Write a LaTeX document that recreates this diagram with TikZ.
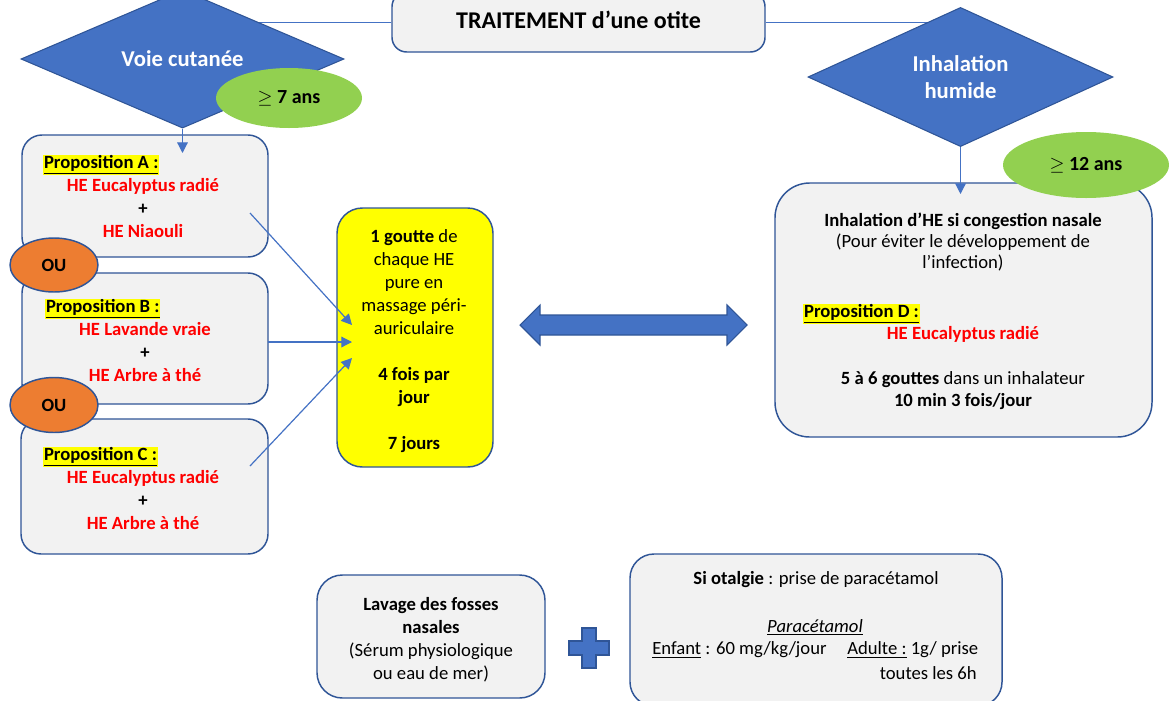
\documentclass[tikz,border=0pt]{standalone}
\usepackage{fontspec}
\setmainfont{Carlito}
\usetikzlibrary{shapes.geometric,arrows.meta,backgrounds}
\definecolor{dblue}{HTML}{2F5597}
\definecolor{mblue}{HTML}{4472C4}
\definecolor{lgray}{HTML}{F2F2F2}
\definecolor{lgreen}{HTML}{92D050}
\definecolor{orng}{HTML}{ED7D31}
\definecolor{hred}{HTML}{FF0000}
\definecolor{hyel}{HTML}{FFFF00}
\begin{document}
\begin{tikzpicture}[x=0.75pt,y=-0.75pt,
  sz/.style 2 args={minimum width=#1*0.75pt, minimum height=#2*0.75pt, inner sep=0pt},
  rbox/.style={draw=dblue, line width=1.1pt, fill=lgray, rounded corners=15pt},
  dia/.style={diamond, draw=dblue, fill=mblue, line width=0.8pt, text=white, inner sep=0pt, align=center,
     font=\fontsize{17}{20.5}\selectfont\bfseries},
  age/.style={ellipse, fill=lgreen, inner sep=0pt, font=\fontsize{15}{18}\selectfont\bfseries},
  ou/.style={ellipse, fill=orng, draw=dblue, line width=1.1pt, inner sep=0pt, font=\fontsize{14}{17}\selectfont\bfseries},
  body/.style={inner sep=0pt, align=center, font=\fontsize{14}{17.25}\selectfont},
  redt/.style={body, text=hred, font=\fontsize{14}{17.25}\selectfont\bfseries},
  prop/.style={fill=hyel, inner sep=0.6pt, font=\fontsize{14}{17}\selectfont\bfseries},
  conn/.style={draw=mblue, line width=0.9pt},
  arr/.style={conn, -{Triangle[length=8pt,width=8pt]}},
  bigarrow/.style={fill=mblue, draw=dblue, line width=0.8pt}
]
\useasboundingbox (0,0) rectangle (1169,700);

% title
\node[rbox, rounded corners=11pt, sz={373}{60}] (title) at (578.5,22) {};
\node[inner sep=0pt, font=\fontsize{18}{21}\selectfont\bfseries] (titletxt) at (578.5,20) {TRAITEMENT d’une otite};

% diamonds
\node[dia, sz={323}{98}] (cut) at (182.5,59) {Voie cutanée};
\node[dia, sz={305}{139}] (inh) at (960.5,77) {Inhalation\\humide};

\begin{scope}[on background layer]
  \draw[conn] (title.west |- 0,22.5) -- (cut.center |- 0,22.5);
  \draw[conn] (title.east |- 0,22.5) -- (inh.center |- 0,22.5);
\end{scope}

% proposition boxes
\node[rbox, rounded corners=15pt, sz={246}{122}] (boxA) at (145,196) {};
\node[rbox, rounded corners=15pt, sz={246}{131}] (boxB) at (145,338.5) {};
\node[rbox, rounded corners=15pt, sz={247}{135}] (boxC) at (144.5,486.5) {};

\node[prop, anchor=west] (propA) at (43,165) {\underline{Proposition A :}};
\node[redt] (txtA) at (143,208) {HE Eucalyptus radié\\{\color{black}+}\\HE Niaouli};
\node[prop, anchor=west] (propB) at (45,309) {\underline{Proposition B :}};
\node[redt] (txtB) at (145,352) {HE Lavande vraie\\{\color{black}+}\\HE Arbre à thé};
\node[prop, anchor=west] (propC) at (43,457) {\underline{Proposition C :}};
\node[redt] (txtC) at (143,500) {HE Eucalyptus radié\\{\color{black}+}\\HE Arbre à thé};

% OU ellipses
\node[ou, sz={88}{54}] (ou1) at (54,265) {OU};
\node[ou, sz={88}{55}] (ou2) at (54,405) {OU};

% age ellipses
\node[age, sz={146}{60}] (age7) at (289,98) {$\geq$ 7 ans};

% yellow box
\node[rbox, fill=hyel, rounded corners=19pt, sz={156}{259}] (yel) at (415,337.5) {};
\node[body] (yeltxt) at (414,341) {\textbf{1 goutte} de\\chaque HE\\pure en\\massage péri-\\auriculaire\\[17.25pt]\textbf{4 fois par}\\\textbf{jour}\\[17.25pt]\textbf{7 jours}};

% box D
\node[rbox, rounded corners=26pt, sz={377}{254}] (boxD) at (963.5,310) {};
\node[age, sz={166}{66}] (age12) at (1086,165) {$\geq$ 12 ans};
\node[body, font=\fontsize{14}{16}\selectfont] (dtop) at (963,242) {\textbf{Inhalation d’HE si congestion nasale}\\(Pour éviter le développement de\\l’infection)};
\node[prop, anchor=west] (propD) at (803,314) {\underline{Proposition D :}};
\node[redt] (txtD) at (963,334) {HE Eucalyptus radié};
\node[body, font=\fontsize{14}{17}\selectfont] (dbot) at (963,390.5) {\textbf{5 à 6 gouttes} dans un inhalateur\\\textbf{10 min 3 fois/jour}};

% connectors
\coordinate (aIn) at (182.5,153);
\coordinate (dIn) at (960.5,194);
\draw[arr] (cut.south) -- (aIn);
\draw[arr] (inh.south) -- (dIn);

\coordinate (aOut) at (250,213);
\coordinate (bOut) at (268,342);
\coordinate (cOut) at (250,466);
\coordinate (yA) at (352,325);
\coordinate (yB) at (352,342);
\coordinate (yC) at (352,358);
\draw[arr] (aOut) -- (yA);
\draw[arr] (bOut) -- (yB);
\draw[arr] (cOut) -- (yC);

% double arrow
\draw[bigarrow] (520,325) -- (540,305) -- (540,315) -- (727,315) -- (727,305) -- (747,325)
   -- (727,345) -- (727,335) -- (540,335) -- (540,345) -- cycle;

% bottom boxes
\node[rbox, rounded corners=19pt, sz={228}{123}] (lav) at (431,636.5) {};
\node[body] (lavtxt) at (431,640) {\textbf{Lavage des fosses}\\\textbf{nasales}\\(Sérum physiologique\\ou eau de mer)};

\draw[bigarrow] (582,628) -- (596,628) -- (596,641) -- (609,641) -- (609,655) -- (596,655) -- (596,668)
  -- (582,668) -- (582,655) -- (569,655) -- (569,641) -- (582,641) -- cycle;

\node[rbox, rounded corners=18pt, sz={372}{152}] (para) at (816,630) {};
\node[body] (p1) at (816,580) {\textbf{Si otalgie} : prise de paracétamol};
\node[body] (p2) at (815,627) {\underline{\textit{Paracétamol}}};
\node[body, anchor=west] (p3) at (652,650) {\underline{Enfant} : 60 mg/kg/jour};
\node[body, anchor=west] (p4) at (847,650) {\underline{Adulte :} 1g/ prise};
\node[body, anchor=east] (p5) at (977,673) {toutes les 6h};

\end{tikzpicture}
\end{document}
